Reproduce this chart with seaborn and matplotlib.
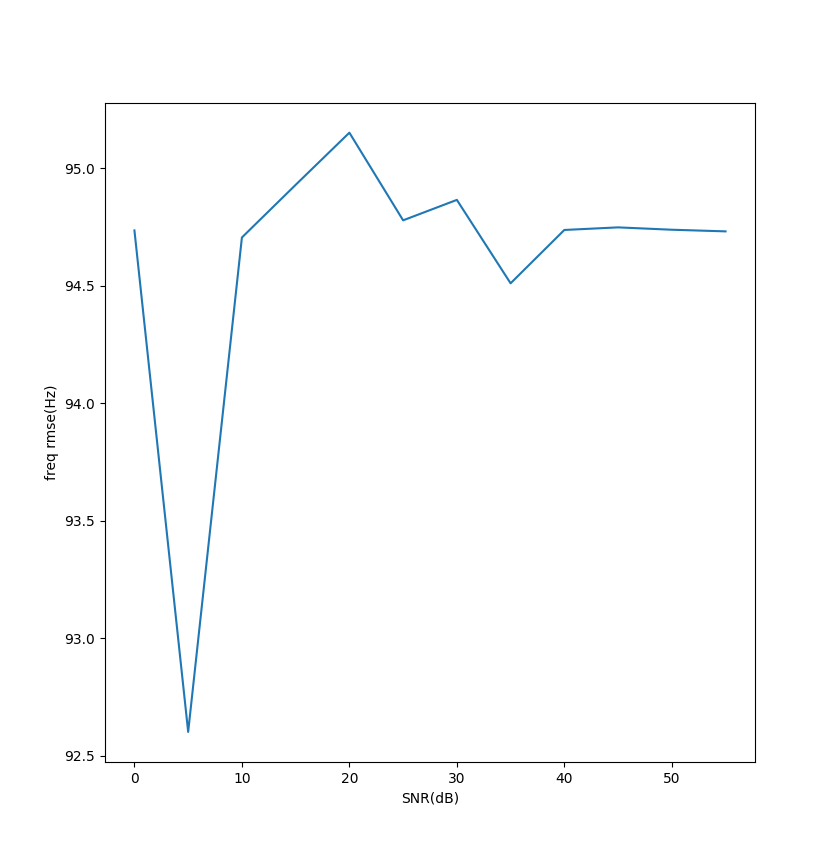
import matplotlib
matplotlib.use("Agg")
import matplotlib.pyplot as plt
import seaborn as sns
import pandas as pd

snr_db = [0, 5, 10, 15, 20, 25, 30, 35, 40, 45, 50, 55]
freq_rmse = [94.736, 92.602, 94.706, 94.93, 95.152, 94.779, 94.866, 94.511, 94.738, 94.749, 94.739, 94.732]

df = pd.DataFrame({"SNR(dB)": snr_db, "freq rmse(Hz)": freq_rmse})

fig, ax = plt.subplots(figsize=(8.39, 8.56), dpi=100)
sns.lineplot(data=df, x="SNR(dB)", y="freq rmse(Hz)", ax=ax, color="#1f77b4", linewidth=1.5)
ax.set_xlabel("SNR(dB)")
ax.set_ylabel("freq rmse(Hz)")
fig.savefig("out.png", dpi=100)
